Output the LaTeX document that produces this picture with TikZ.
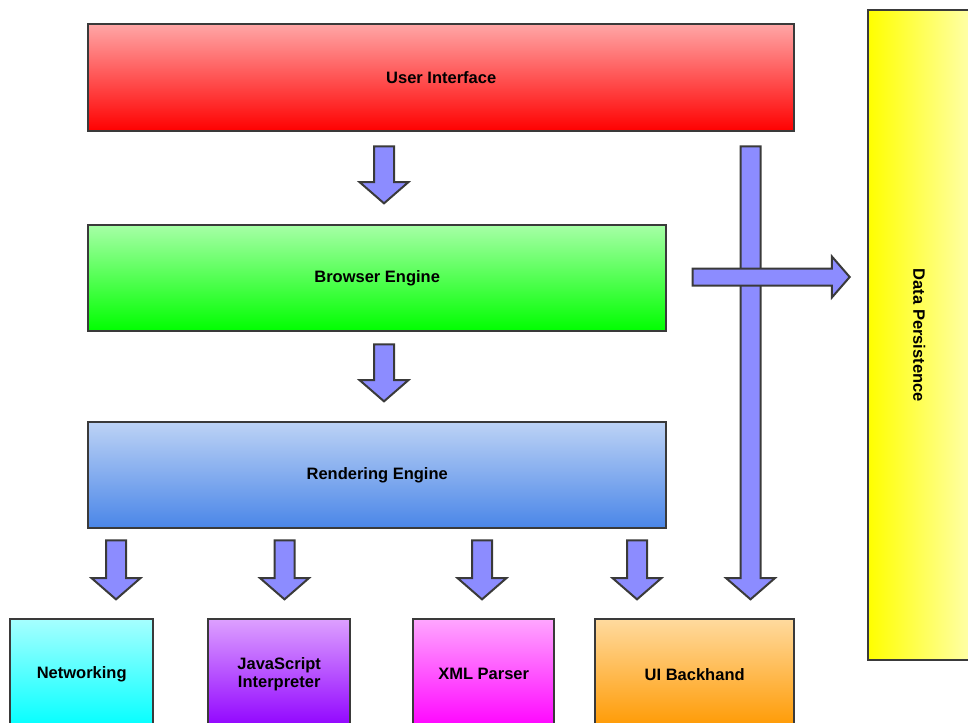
\documentclass[tikz,border=0pt]{standalone}
\usepackage{fontspec}
\setmainfont{Liberation Sans}
\usetikzlibrary{shapes.arrows}
\definecolor{edge}{HTML}{3A3A3A}
\definecolor{flowfill}{HTML}{8C8CFF}
\definecolor{uitop}{HTML}{FFA6A6}   \definecolor{uibot}{HTML}{FF0000}
\definecolor{betop}{HTML}{A6FFA6}   \definecolor{bebot}{HTML}{00FF00}
\definecolor{retop}{HTML}{BCD2F5}   \definecolor{rebot}{HTML}{4A86E8}
\definecolor{nettop}{HTML}{A6FFFF}  \definecolor{netbot}{HTML}{00FFFF}
\definecolor{jstop}{HTML}{DDA0FF}   \definecolor{jsbot}{HTML}{8F00FF}
\definecolor{xmltop}{HTML}{FFA6FF}  \definecolor{xmlbot}{HTML}{FF00FF}
\definecolor{uibtop}{HTML}{FFDA9E}  \definecolor{uibbot}{HTML}{FF9900}
\definecolor{dpleft}{HTML}{FFFF00}  \definecolor{dpright}{HTML}{FFFFA8}

\begin{document}
\begin{tikzpicture}[x=1pt, y=-1pt, font=\fontsize{16.5}{18.5}\selectfont\bfseries,
  layer/.style={rectangle, draw=edge, line width=2.4pt, inner sep=0pt,
                anchor=north west, align=center},
  flow/.style={single arrow, draw=edge, line width=2pt, fill=flowfill,
               inner xsep=0pt, inner ysep=9pt,
               single arrow head extend=14.5pt, single arrow tip angle=98}]
  \useasboundingbox (0,0) rectangle (968,722);

  % --- upper layers ---
  \node[layer, minimum width=706, minimum height=107, top color=uitop, bottom color=uibot]
       (ui) at (87,23) {User Interface};
  \node[layer, minimum width=578, minimum height=106, top color=betop, bottom color=bebot]
       (be) at (87,224) {Browser Engine};
  \node[layer, minimum width=578, minimum height=106, top color=retop, bottom color=rebot]
       (re) at (87,421) {Rendering Engine};

  % --- components ---
  \node[layer, minimum width=143, minimum height=110, top color=nettop, bottom color=netbot]
       (net) at (9,618) {Networking};
  \node[layer, minimum width=142, minimum height=110, top color=jstop, bottom color=jsbot]
       (js) at (207,618) {JavaScript\\Interpreter};
  \node[layer, minimum width=141, minimum height=110, top color=xmltop, bottom color=xmlbot]
       (xml) at (412,618) {XML Parser};
  \node[layer, minimum width=199, minimum height=110, top color=uibtop, bottom color=uibbot]
       (uib) at (594,618) {UI Backhand};

  % --- data persistence ---
  \node[layer, minimum width=102, minimum height=650, left color=dpleft, right color=dpright]
       (dp) at (867,9) {};
  \node[rotate=-90] (dpt) at (dp.center) {Data Persistence};

  % --- flows ---
  \node[flow, minimum height=57, rotate=-90] (f1) at (384,170.5) {};
  \node[flow, minimum height=57, rotate=-90] (f2) at (384,368.5) {};
  \foreach \x/\n in {116/f3, 284.5/f4, 482/f5, 637/f6}
    \node[flow, minimum height=59, rotate=-90] (\n) at (\x,565.5) {};
  \node[flow, minimum height=453, rotate=-90] (f7) at (750.5,368.5) {};
  \node[flow, minimum height=157, inner ysep=7.5pt, single arrow head extend=12pt]
       (f8) at (767.5,277) {};
\end{tikzpicture}
\end{document}
